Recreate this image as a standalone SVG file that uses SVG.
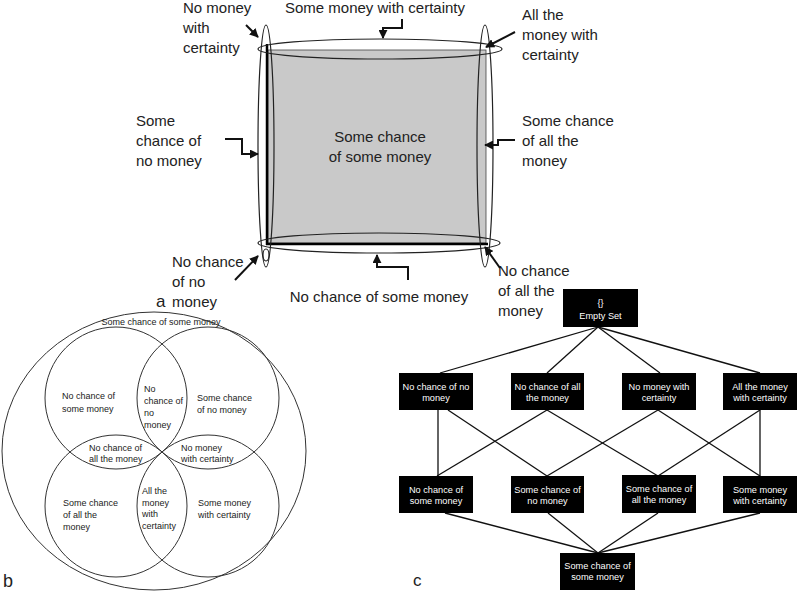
<svg xmlns="http://www.w3.org/2000/svg" width="800" height="594" viewBox="0 0 800 594">
<style>
.ta{font-family:"Liberation Sans",Arial,sans-serif;font-size:15px;fill:#222}
.tb{font-family:"Liberation Sans",Arial,sans-serif;font-size:9px;fill:#222}
.tc{font-family:"Liberation Sans",Arial,sans-serif;font-size:9.2px;fill:#fff;text-anchor:middle}
.lab{font-family:"Liberation Sans",Arial,sans-serif;font-size:18px;fill:#222}
.ell{fill:none;stroke:#222;stroke-width:1.2}
.arr{fill:none;stroke:#111;stroke-width:2;marker-end:url(#ah)}
.box{fill:#000}
.con{stroke:#111;stroke-width:1.3;fill:none}
.circ{fill:none;stroke:#333;stroke-width:1}
</style>
<defs>
<marker id="ah" viewBox="0 0 10 10" refX="9" refY="5" markerWidth="4.5" markerHeight="4.5" orient="auto" markerUnits="strokeWidth">
<path d="M0,0 L10,5 L0,10 z" fill="#111"/>
</marker>
</defs>
<rect width="800" height="594" fill="#fff"/>

<!-- Panel a -->
<g id="panel-a">
<rect x="268" y="50" width="218" height="193" fill="#c9c9c9" stroke="#444" stroke-width="0.8"/>
<line x1="267" y1="44" x2="267" y2="245" stroke="#000" stroke-width="2.5"/>
<line x1="266" y1="244" x2="488" y2="244" stroke="#000" stroke-width="2.5"/>
<ellipse class="ell" cx="380" cy="49" rx="122" ry="10"/>
<ellipse class="ell" cx="379" cy="243" rx="121" ry="10"/>
<ellipse class="ell" cx="266" cy="146" rx="8" ry="121"/>
<ellipse class="ell" cx="485" cy="146" rx="8" ry="121"/>
<ellipse class="ell" cx="266" cy="255" rx="3" ry="6"/>
<text class="ta" x="380" y="142" text-anchor="middle">Some chance</text>
<text class="ta" x="380" y="162" text-anchor="middle">of some money</text>
</g>
<g id="a-labels">
<text class="ta" x="183" y="13">No money</text>
<text class="ta" x="183" y="33">with</text>
<text class="ta" x="183" y="53">certainty</text>
<text class="ta" x="375" y="13" text-anchor="middle">Some money with certainty</text>
<text class="ta" x="522" y="20">All the</text>
<text class="ta" x="522" y="40">money with</text>
<text class="ta" x="522" y="60">certainty</text>
<text class="ta" x="136" y="126">Some</text>
<text class="ta" x="136" y="146">chance of</text>
<text class="ta" x="136" y="166">no money</text>
<text class="ta" x="522" y="126">Some chance</text>
<text class="ta" x="522" y="146">of all the</text>
<text class="ta" x="522" y="166">money</text>
<text class="ta" x="172" y="267">No chance</text>
<text class="ta" x="172" y="287">of no</text>
<text class="ta" x="172" y="307">money</text>
<text class="ta" x="156" y="307" style="font-size:17px">a</text>
<text class="ta" x="379" y="302" text-anchor="middle">No chance of some money</text>
<text class="ta" x="498" y="276">No chance</text>
<text class="ta" x="498" y="296">of all the</text>
<text class="ta" x="498" y="316">money</text>
</g>
<g id="a-arrows">
<path class="arr" d="M402,19 V28 H383 V38"/>
<path class="arr" d="M246,25 L258,37"/>
<path class="arr" d="M515,32 L486,47"/>
<path class="arr" d="M225,139 H242 V154 H258"/>
<path class="arr" d="M515,140 H498 V145 H485"/>
<path class="arr" d="M235,280 L258,256"/>
<path class="arr" d="M408,280 V267 H377 V255"/>
<path class="arr" d="M500,268 L485,247"/>
</g>

<!-- Panel b -->
<g id="panel-b">
<ellipse class="circ" cx="154" cy="451" rx="152" ry="139"/>
<circle class="circ" cx="116" cy="398" r="71"/>
<circle class="circ" cx="208" cy="398" r="71"/>
<circle class="circ" cx="116" cy="506" r="71"/>
<circle class="circ" cx="208" cy="506" r="71"/>
<text class="tb" x="161" y="325" text-anchor="middle">Some chance of some money</text>
<text class="tb" x="62" y="399">No chance of</text>
<text class="tb" x="62" y="412">some money</text>
<text class="tb" x="144" y="392">No</text>
<text class="tb" x="144" y="404">chance of</text>
<text class="tb" x="144" y="416">no</text>
<text class="tb" x="144" y="428">money</text>
<text class="tb" x="197" y="401">Some chance</text>
<text class="tb" x="197" y="413">of no money</text>
<text class="tb" x="89" y="451">No chance of</text>
<text class="tb" x="89" y="462">all the money</text>
<text class="tb" x="181" y="451">No money</text>
<text class="tb" x="181" y="462">with certainty</text>
<text class="tb" x="63" y="506">Some chance</text>
<text class="tb" x="63" y="518">of all the</text>
<text class="tb" x="63" y="530">money</text>
<text class="tb" x="142" y="494">All the</text>
<text class="tb" x="142" y="506">money</text>
<text class="tb" x="142" y="517">with</text>
<text class="tb" x="142" y="529">certainty</text>
<text class="tb" x="198" y="506">Some money</text>
<text class="tb" x="198" y="518">with certainty</text>
<text class="lab" x="3" y="587">b</text>
</g>

<!-- Panel c connectors -->
<g id="connectors">
<line class="con" x1="598" y1="327" x2="440" y2="373"/>
<line class="con" x1="598" y1="327" x2="547" y2="373"/>
<line class="con" x1="598" y1="327" x2="660" y2="373"/>
<line class="con" x1="598" y1="327" x2="760" y2="373"/>
<line class="con" x1="438" y1="410" x2="438" y2="476"/>
<line class="con" x1="448" y1="410" x2="547" y2="476"/>
<line class="con" x1="547" y1="410" x2="437" y2="476"/>
<line class="con" x1="547" y1="410" x2="658" y2="476"/>
<line class="con" x1="658" y1="410" x2="547" y2="476"/>
<line class="con" x1="658" y1="410" x2="760" y2="476"/>
<line class="con" x1="760" y1="410" x2="658" y2="476"/>
<line class="con" x1="760" y1="410" x2="760" y2="476"/>
<line class="con" x1="445" y1="513" x2="598" y2="553"/>
<line class="con" x1="548" y1="513" x2="598" y2="553"/>
<line class="con" x1="658" y1="513" x2="598" y2="553"/>
<line class="con" x1="760" y1="513" x2="598" y2="553"/>
</g>

<g id="n-empty"><rect class="box" x="563" y="289" width="75" height="38"/>
<text class="tc" x="600.5" y="306">{}</text><text class="tc" x="600.5" y="319">Empty Set</text></g>
<g id="n-nc-no"><rect class="box" x="399" y="373" width="74" height="37"/>
<text class="tc" x="436" y="390">No chance of no</text><text class="tc" x="436" y="401">money</text></g>
<g id="n-nc-all"><rect class="box" x="511" y="373" width="73" height="37"/>
<text class="tc" x="547.5" y="390">No chance of all</text><text class="tc" x="547.5" y="401">the money</text></g>
<g id="n-nm-cert"><rect class="box" x="622" y="373" width="74" height="37"/>
<text class="tc" x="659" y="390">No money with</text><text class="tc" x="659" y="401">certainty</text></g>
<g id="n-all-cert"><rect class="box" x="723" y="373" width="74" height="37"/>
<text class="tc" x="760" y="390">All the money</text><text class="tc" x="760" y="401">with certainty</text></g>
<g id="n-nc-some"><rect class="box" x="399" y="476" width="74" height="37"/>
<text class="tc" x="436" y="493">No chance of</text><text class="tc" x="436" y="504">some money</text></g>
<g id="n-sc-no"><rect class="box" x="511" y="476" width="73" height="37"/>
<text class="tc" x="547.5" y="493">Some chance of</text><text class="tc" x="547.5" y="504">no money</text></g>
<g id="n-sc-all"><rect class="box" x="622" y="475" width="74" height="38"/>
<text class="tc" x="659" y="492">Some chance of</text><text class="tc" x="659" y="503">all the money</text></g>
<g id="n-sm-cert"><rect class="box" x="723" y="476" width="74" height="37"/>
<text class="tc" x="760" y="493">Some money</text><text class="tc" x="760" y="504">with certainty</text></g>
<g id="n-sc-some"><rect class="box" x="560" y="553" width="75" height="37"/>
<text class="tc" x="597.5" y="569">Some chance of</text><text class="tc" x="597.5" y="580">some money</text></g>
<text class="lab" x="413" y="586" style="font-size:17px">c</text>
</svg>
